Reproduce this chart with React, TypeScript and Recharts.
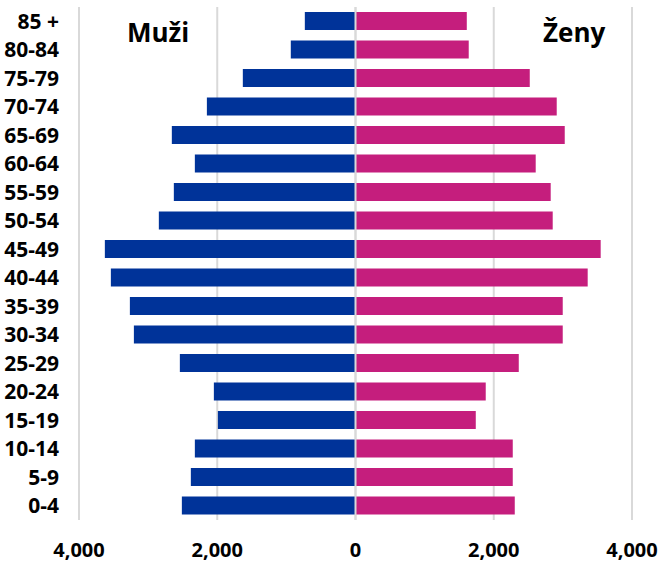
import React from "react";
import { BarChart, Bar, XAxis, YAxis, CartesianGrid, ReferenceLine } from "recharts";

const ageGroups = ["85 +", "80-84", "75-79", "70-74", "65-69", "60-64", "55-59", "50-54", "45-49", "40-44", "35-39", "30-34", "25-29", "20-24", "15-19", "10-14", "5-9", "0-4"];
const maleValues = [733, 936, 1630, 2150, 2657, 2324, 2628, 2845, 3626, 3539, 3264, 3206, 2541, 2049, 1991, 2324, 2382, 2512];
const femaleValues = [1610, 1638, 2521, 2911, 3027, 2607, 2824, 2853, 3547, 3359, 2998, 2998, 2362, 1884, 1740, 2275, 2275, 2304];
const xTicks = [-4000, -2000, 0, 2000, 4000];

const data = ageGroups.map((age, i) => ({
  age,
  male: -maleValues[i],
  female: femaleValues[i],
}));

const FONT = "'Open Sans', 'Noto Sans', sans-serif";
const fmt = (v: number) => Math.abs(v).toLocaleString("en-US");

export default function App() {
  return (
    <div style={{ position: "absolute", left: 0, top: 0, width: 662, height: 562, background: "#fff", fontFamily: FONT }}>
      <BarChart
        width={662}
        height={562}
        data={data}
        layout="vertical"
        stackOffset="sign"
        margin={{ top: 7, right: 30, bottom: 0, left: 0 }}
      >
        <CartesianGrid horizontal={false} vertical={true} stroke="#D9D9D9" strokeWidth={2} />
        <XAxis
          type="number"
          domain={[-4000, 4000]}
          ticks={xTicks}
          tickFormatter={fmt}
          axisLine={false}
          tickLine={false}
          tickSize={0}
          tickMargin={23}
          height={42}
          tick={{ fill: "#000", fontSize: 20, fontWeight: 700, fontFamily: FONT }}
        />
        <YAxis
          type="category"
          dataKey="age"
          width={79}
          axisLine={false}
          tickLine={false}
          tickSize={0}
          tickMargin={20}
          interval={0}
          tick={{ fill: "#000", fontSize: 21, fontWeight: 700, fontFamily: FONT }}
        />
        <Bar dataKey="male" stackId="a" fill="#003399" barSize={18} isAnimationActive={false} />
        <Bar dataKey="female" stackId="a" fill="#C51E7D" barSize={18} isAnimationActive={false} />
        <ReferenceLine x={0} stroke="#D9D9D9" strokeWidth={2} />
      </BarChart>
      <div style={{ position: "absolute", left: 127, top: 14, fontSize: 26, fontWeight: 700, color: "#000", lineHeight: "36px" }}>Muži</div>
      <div style={{ position: "absolute", left: 543, top: 14, fontSize: 26, fontWeight: 700, color: "#000", lineHeight: "36px" }}>Ženy</div>
    </div>
  );
}
